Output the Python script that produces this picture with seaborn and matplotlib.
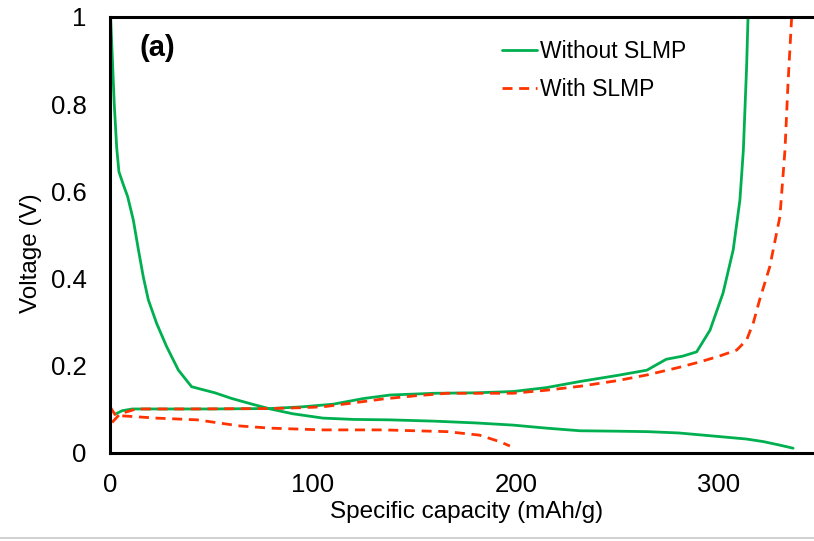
import pandas as pd
import matplotlib.pyplot as plt
import seaborn as sns
from matplotlib.lines import Line2D

# discharge / charge curves
wo_dis_x = [0.3, 1.2, 2.1, 3.3, 4.4, 6.6, 8.7, 11.5, 14, 16.4, 18.9, 23, 27.9, 33.7, 40.2, 51.7,
            60, 70, 79, 90, 105, 120, 138, 160, 180, 198.5, 215, 231.5, 250, 264.5, 280, 297,
            313.6, 322, 330, 336.5]
wo_dis_y = [1.0, 0.9, 0.8, 0.70, 0.645, 0.615, 0.588, 0.534, 0.466, 0.404, 0.351, 0.297, 0.244,
            0.19, 0.152, 0.138, 0.125, 0.112, 0.101, 0.09, 0.08, 0.077, 0.076, 0.073, 0.069,
            0.064, 0.057, 0.051, 0.05, 0.049, 0.046, 0.039, 0.032, 0.026, 0.018, 0.011]

wo_chg_x = [3, 6, 11, 30, 50, 79, 95, 110, 125, 138, 160, 180, 198.5, 215, 231.5, 250, 264.5,
            274, 282, 289, 295.6, 302, 307, 310.3, 312, 313.6, 314.3]
wo_chg_y = [0.09, 0.097, 0.101, 0.101, 0.101, 0.102, 0.106, 0.112, 0.125, 0.133, 0.137, 0.138,
            0.141, 0.15, 0.164, 0.178, 0.19, 0.215, 0.222, 0.232, 0.282, 0.367, 0.466, 0.58,
            0.695, 0.886, 1.0]

w_dis_x = [0, 2.5, 6.6, 23, 43, 55, 64, 79, 105, 134.6, 166, 182, 192, 197]
w_dis_y = [0.106, 0.088, 0.085, 0.08, 0.076, 0.068, 0.062, 0.057, 0.053, 0.053, 0.049, 0.041,
           0.026, 0.016]

w_chg_x = [1, 5, 13, 40, 79, 95, 105, 120, 134.6, 150, 166, 198.5, 215, 231.5, 250, 264.5, 280,
           290.6, 300, 308.7, 313.6, 317, 320, 325, 330, 332.5, 334, 335.8]
w_chg_y = [0.07, 0.09, 0.101, 0.101, 0.102, 0.104, 0.106, 0.115, 0.124, 0.131, 0.137, 0.137,
           0.144, 0.153, 0.166, 0.179, 0.196, 0.209, 0.222, 0.236, 0.259, 0.3, 0.351, 0.427,
           0.542, 0.695, 0.848, 1.0]

labels = ["Without SLMP", "With SLMP"]
colors = ["#00B050", "#FF3300"]

x_ticks = [0, 100, 200, 300]
y_ticks = [0, 0.2, 0.4, 0.6, 0.8, 1.0]
y_tick_labels = ["0", "0.2", "0.4", "0.6", "0.8", "1"]

sns.set_style("white")
plt.rcParams["font.family"] = ["Liberation Sans", "DejaVu Sans"]
plt.rcParams["text.color"] = "black"
plt.rcParams["axes.labelcolor"] = "black"

fig = plt.figure(figsize=(8.14, 5.41), dpi=100)
ax = fig.add_axes([110 / 814, 88 / 541, 704 / 814, 436 / 541])

dash = (3.6, 2.4)
curves = [
    (wo_dis_x, wo_dis_y, 0),
    (wo_chg_x, wo_chg_y, 0),
    (w_dis_x, w_dis_y, 1),
    (w_chg_x, w_chg_y, 1),
]
for xs, ys, k in curves:
    df = pd.DataFrame({"capacity": xs, "voltage": ys})
    sns.lineplot(data=df, x="capacity", y="voltage", sort=False, ax=ax,
                 linewidth=2.0, color=colors[k])
    if k == 1:
        ax.lines[-1].set_dashes(dash)

ax.set_xlim(0, 704 / 2.03)
ax.set_ylim(0, 1)
ax.set_xticks(x_ticks)
ax.set_yticks(y_ticks)
ax.set_yticklabels(y_tick_labels)
ax.tick_params(axis="both", direction="in", length=6, width=0.8, color="#808080",
               labelsize=18.5, labelcolor="black")
ax.tick_params(axis="x", pad=14.5)
ax.tick_params(axis="y", pad=17)

for side in ["left", "bottom", "top"]:
    ax.spines[side].set_color("black")
    ax.spines[side].set_linewidth(2.2)
ax.spines["right"].set_visible(False)

ax.set_xlabel("Specific capacity (mAh/g)", fontsize=17.5)
ax.set_ylabel("Voltage (V)", fontsize=17.5)
ax.xaxis.set_label_coords(0.506, -0.11)
ax.yaxis.set_label_coords(-0.097, 0.459)

ax.text(14.5, 0.93, "(a)", fontsize=21, fontweight="bold", va="center", ha="left",
        color="black")

handles = [
    Line2D([], [], color=colors[0], linewidth=2.0),
    Line2D([], [], color=colors[1], linewidth=2.0, dashes=dash),
]
ax.legend(handles, labels, loc="upper left", bbox_to_anchor=(369 / 704, 1.0), frameon=False,
          fontsize=16.5, handlelength=1.55, handletextpad=0.13, labelspacing=0.64,
          borderaxespad=0.6)

# thin grey rule along the bottom edge of the picture
fig.add_artist(Line2D([0, 1], [3 / 541, 3 / 541], color="#C8C8C8", linewidth=1.2,
                      transform=fig.transFigure))

fig.savefig("out.png", dpi=100)
